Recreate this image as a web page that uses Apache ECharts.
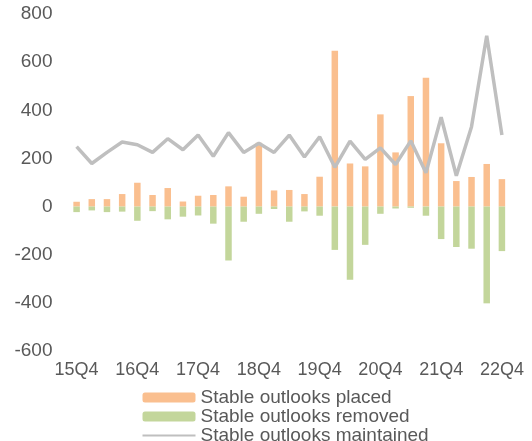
<!DOCTYPE html>
<html>
<head>
<meta charset="utf-8">
<script src="https://cdn.jsdelivr.net/npm/echarts@6/dist/echarts.min.js"></script>
<style>html,body{margin:0;padding:0;background:#fff;}#c{width:532px;height:441px;}</style>
</head>
<body>
<div id="c"></div>
<script>
const categories = ['15Q4','16Q1','16Q2','16Q3','16Q4','17Q1','17Q2','17Q3','17Q4','18Q1','18Q2','18Q3','18Q4',
  '19Q1','19Q2','19Q3','19Q4','20Q1','20Q2','20Q3','20Q4','21Q1','21Q2','21Q3','21Q4','22Q1','22Q2','22Q3','22Q4'];
const placed = [20,31,31,52,99,48,77,21,45,48,84,41,265,67,69,52,124,647,179,167,383,225,459,535,263,106,123,177,114];
const removed = [-23,-16,-23,-21,-59,-19,-53,-42,-37,-71,-224,-63,-30,-10,-63,-20,-38,-180,-304,-159,-30,-8,-5,-38,-135,-168,-175,-402,-185];
const maintained = [249,179,225,268,257,225,282,236,297,209,307,225,263,225,297,206,290,163,272,196,244,175,273,140,371,128,332,710,297];
const seriesNames = ['Stable outlooks placed','Stable outlooks removed','Stable outlooks maintained'];

const chart = echarts.init(document.getElementById('c'), null, {renderer:'canvas'});
const font = 'Liberation Sans, Arial, sans-serif';
chart.setOption({
  animation: false,
  backgroundColor: '#fff',
  grid: {left: 69, right: 22.5, top: 14, bottom: 90, containLabel: false},
  xAxis: {
    type: 'category', data: categories, boundaryGap: true,
    axisLine: {show: false}, axisTick: {show: false},
    axisLabel: {interval: 3, color: '#595959', fontSize: 18, fontFamily: font, margin: 10}
  },
  yAxis: {
    type: 'value', min: -600, max: 800, interval: 200,
    axisLine: {show: false}, axisTick: {show: false}, splitLine: {show: false},
    axisLabel: {color: '#595959', fontSize: 19, fontFamily: font, margin: 16.5}
  },
  legend: {
    orient: 'vertical', left: 141.5, top: 388, height: 80, padding: 0,
    itemWidth: 53, itemHeight: 10, itemGap: 0,
    textStyle: {color: '#595959', fontSize: 19, fontFamily: font, lineHeight: 18.5, padding: [0,0,0,0]},
    data: [seriesNames[0], seriesNames[1], {name: seriesNames[2], itemStyle: {opacity: 0}}]
  },
  series: [
    {name: seriesNames[0], type: 'bar', stack: 's', data: placed, barWidth: 6.5,
     itemStyle: {color: '#FABF8F'}},
    {name: seriesNames[1], type: 'bar', stack: 's', data: removed, barWidth: 6.5,
     itemStyle: {color: '#C3D69B'}},
    {name: seriesNames[2], type: 'line', data: maintained, symbol: 'none', z: 5,
     lineStyle: {color: '#BFBFBF', width: 3.5}, itemStyle: {color: '#BFBFBF'}}
  ]
});
</script>
</body>
</html>
